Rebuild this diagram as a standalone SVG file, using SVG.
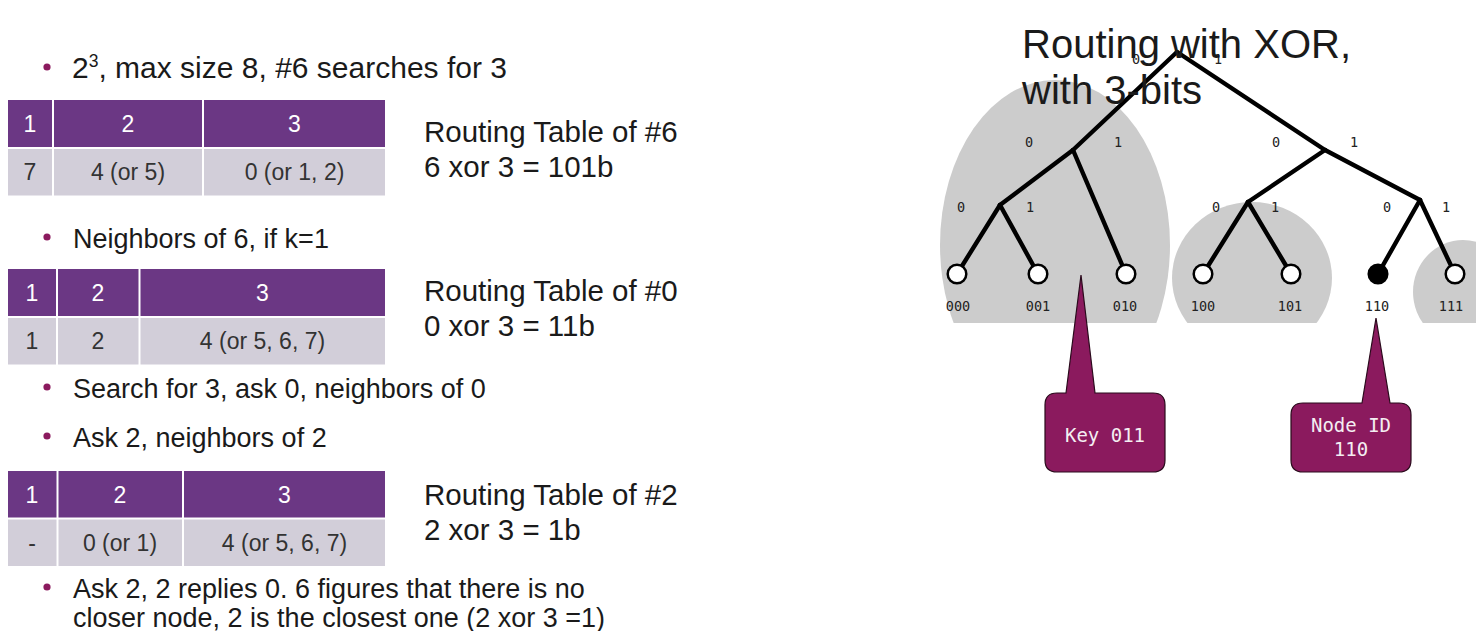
<svg xmlns="http://www.w3.org/2000/svg" width="1476" height="631" viewBox="0 0 1476 631">
<style>
.txt{font-family:"Liberation Sans",Arial,sans-serif;fill:#1a1a1a}
.bul{font-size:27px}
.lab{font-size:29.5px}
.hd{fill:#6b3784}
.bd{fill:#d2ced9}
.ht{font-family:"Liberation Sans",Arial,sans-serif;font-size:23px;fill:#ffffff;text-anchor:middle}
.bt{font-family:"Liberation Sans",Arial,sans-serif;font-size:23px;fill:#333333;text-anchor:middle}
.dot{fill:#8b1a5e}
.mono{font-family:"DejaVu Sans Mono","Liberation Mono",monospace;font-size:13.5px;fill:#222222;text-anchor:middle}
.edge{stroke:#000;stroke-width:4.4;stroke-linecap:round;fill:none}
.leaf{fill:#fff;stroke:#000;stroke-width:2.5}
.blob{fill:#cccccc}
.call{fill:#8b1a5e;stroke:#2a0a1c;stroke-width:1.2}
.ct{font-family:"DejaVu Sans Mono","Liberation Mono",monospace;font-size:19px;fill:#f4eef2;text-anchor:middle}
</style>
<defs>
<clipPath id="cut"><rect x="0" y="0" width="1476" height="323"/></clipPath>
</defs>
<rect width="1476" height="631" fill="#ffffff"/>

<!-- Left: bullets -->
<g id="bullets">
<circle class="dot" cx="47" cy="67" r="3.6"/>
<text class="txt" font-size="30" x="72" y="78">2<tspan font-size="17.5" dy="-11">3</tspan><tspan dy="11">, max size 8, #6 searches for 3</tspan></text>
<circle class="dot" cx="47" cy="237" r="3.6"/>
<text class="txt bul" x="73" y="248">Neighbors of 6, if k=1</text>
<circle class="dot" cx="47" cy="387" r="3.6"/>
<text class="txt bul" x="73" y="398">Search for 3, ask 0, neighbors of 0</text>
<circle class="dot" cx="47" cy="436" r="3.6"/>
<text class="txt bul" x="73" y="447">Ask 2, neighbors of 2</text>
<circle class="dot" cx="47" cy="587" r="3.6"/>
<text class="txt bul" x="73" y="598">Ask 2, 2 replies 0. 6 figures that there is no</text>
<text class="txt bul" x="73" y="627">closer node, 2 is the closest one (2 xor 3 =1)</text>
</g>

<!-- Table 1 -->
<g id="table6">
<rect class="hd" x="8" y="100" width="44" height="47"/>
<rect class="hd" x="54" y="100" width="148" height="47"/>
<rect class="hd" x="204" y="100" width="181" height="47"/>
<rect class="bd" x="8" y="149" width="44" height="46.5"/>
<rect class="bd" x="54" y="149" width="148" height="46.5"/>
<rect class="bd" x="204" y="149" width="181" height="46.5"/>
<text class="ht" x="30" y="132">1</text>
<text class="ht" x="128" y="132">2</text>
<text class="ht" x="294.5" y="132">3</text>
<text class="bt" x="30" y="180">7</text>
<text class="bt" x="128" y="180">4 (or 5)</text>
<text class="bt" x="294.5" y="180">0 (or 1, 2)</text>
</g>
<g id="label6">
<text class="txt lab" x="424" y="142">Routing Table of #6</text>
<text class="txt lab" x="424" y="177">6 xor 3 = 101b</text>
</g>

<!-- Table 2 -->
<g id="table0">
<rect class="hd" x="8" y="269" width="48" height="47"/>
<rect class="hd" x="58" y="269" width="80.5" height="47"/>
<rect class="hd" x="140.5" y="269" width="244.5" height="47"/>
<rect class="bd" x="8" y="318" width="48" height="46.5"/>
<rect class="bd" x="58" y="318" width="80.5" height="46.5"/>
<rect class="bd" x="140.5" y="318" width="244.5" height="46.5"/>
<text class="ht" x="32" y="301">1</text>
<text class="ht" x="98" y="301">2</text>
<text class="ht" x="262.5" y="301">3</text>
<text class="bt" x="32" y="349">1</text>
<text class="bt" x="98" y="349">2</text>
<text class="bt" x="262.5" y="349">4 (or 5, 6, 7)</text>
</g>
<g id="label0">
<text class="txt lab" x="424" y="301">Routing Table of #0</text>
<text class="txt lab" x="424" y="336">0 xor 3 = 11b</text>
</g>

<!-- Table 3 -->
<g id="table2">
<rect class="hd" x="8" y="471" width="48.5" height="46.5"/>
<rect class="hd" x="58.5" y="471" width="123.5" height="46.5"/>
<rect class="hd" x="184" y="471" width="201" height="46.5"/>
<rect class="bd" x="8" y="519.5" width="48.5" height="46.5"/>
<rect class="bd" x="58.5" y="519.5" width="123.5" height="46.5"/>
<rect class="bd" x="184" y="519.5" width="201" height="46.5"/>
<text class="ht" x="32" y="503">1</text>
<text class="ht" x="120" y="503">2</text>
<text class="ht" x="284.5" y="503">3</text>
<text class="bt" x="32" y="551">-</text>
<text class="bt" x="120" y="551">0 (or 1)</text>
<text class="bt" x="284.5" y="551">4 (or 5, 6, 7)</text>
</g>
<g id="label2">
<text class="txt lab" x="424" y="505">Routing Table of #2</text>
<text class="txt lab" x="424" y="540">2 xor 3 = 1b</text>
</g>

<!-- Right: tree -->
<g id="buckets" clip-path="url(#cut)">
<ellipse class="blob" cx="1055" cy="245" rx="115" ry="165"/>
<ellipse class="blob" cx="1252" cy="278" rx="80" ry="76"/>
<ellipse class="blob" cx="1463" cy="292" rx="50" ry="52"/>
</g>

<g id="connectors">
<line class="edge" x1="1177" y1="52" x2="1073" y2="150"/>
<line class="edge" x1="1177" y1="52" x2="1325" y2="150"/>
<line class="edge" x1="1073" y1="150" x2="1000" y2="205"/>
<line class="edge" x1="1073" y1="150" x2="1126" y2="274"/>
<line class="edge" x1="1325" y1="150" x2="1248" y2="202"/>
<line class="edge" x1="1325" y1="150" x2="1420" y2="200"/>
<line class="edge" x1="1000" y1="205" x2="957" y2="274"/>
<line class="edge" x1="1000" y1="205" x2="1038" y2="274"/>
<line class="edge" x1="1248" y1="202" x2="1203" y2="274"/>
<line class="edge" x1="1248" y1="202" x2="1291" y2="274"/>
<line class="edge" x1="1420" y1="200" x2="1378" y2="274"/>
<line class="edge" x1="1420" y1="200" x2="1455" y2="274"/>
</g>

<g id="edge-labels">
<text class="mono" x="1136" y="64">0</text>
<text class="mono" x="1218" y="64">1</text>
<text class="mono" x="1029" y="147">0</text>
<text class="mono" x="1118" y="147">1</text>
<text class="mono" x="1276" y="147">0</text>
<text class="mono" x="1354" y="147">1</text>
<text class="mono" x="961" y="212">0</text>
<text class="mono" x="1030" y="212">1</text>
<text class="mono" x="1216" y="212">0</text>
<text class="mono" x="1275" y="212">1</text>
<text class="mono" x="1387" y="212">0</text>
<text class="mono" x="1446" y="212">1</text>
</g>

<g id="leaf-000"><circle class="leaf" cx="957" cy="274" r="9.3"/><text class="mono" x="958" y="311">000</text></g>
<g id="leaf-001"><circle class="leaf" cx="1038" cy="274" r="9.3"/><text class="mono" x="1038" y="311">001</text></g>
<g id="leaf-010"><circle class="leaf" cx="1126" cy="274" r="9.3"/><text class="mono" x="1125" y="311">010</text></g>
<g id="leaf-100"><circle class="leaf" cx="1203" cy="274" r="9.3"/><text class="mono" x="1203" y="311">100</text></g>
<g id="leaf-101"><circle class="leaf" cx="1291" cy="274" r="9.3"/><text class="mono" x="1290" y="311">101</text></g>
<g id="leaf-110"><circle cx="1378" cy="274" r="9.3" fill="#000" stroke="#000" stroke-width="2.5"/><text class="mono" x="1377" y="311">110</text></g>
<g id="leaf-111"><circle class="leaf" cx="1455" cy="274" r="9.3"/><text class="mono" x="1451" y="311">111</text></g>

<g id="title">
<text class="txt" x="1022" y="58" font-size="40" fill="#1a1a1a">Routing with XOR,</text>
<text class="txt" x="1022" y="104" font-size="40" fill="#1a1a1a">with 3-bits</text>
</g>

<g id="callout-key">
<path class="call" d="M1057,393 L1066,393 L1081,275 L1095,393 L1153,393 Q1165,393 1165,405 L1165,460 Q1165,472 1153,472 L1057,472 Q1045,472 1045,460 L1045,405 Q1045,393 1057,393 Z"/>
<text class="ct" x="1105" y="442">Key 011</text>
</g>
<g id="callout-node">
<path class="call" d="M1303,403 L1362,403 L1376,318 L1390,403 L1399,403 Q1411,403 1411,415 L1411,460 Q1411,472 1399,472 L1303,472 Q1291,472 1291,460 L1291,415 Q1291,403 1303,403 Z"/>
<text class="ct" x="1351" y="432">Node ID</text>
<text class="ct" x="1351" y="456">110</text>
</g>
</svg>
